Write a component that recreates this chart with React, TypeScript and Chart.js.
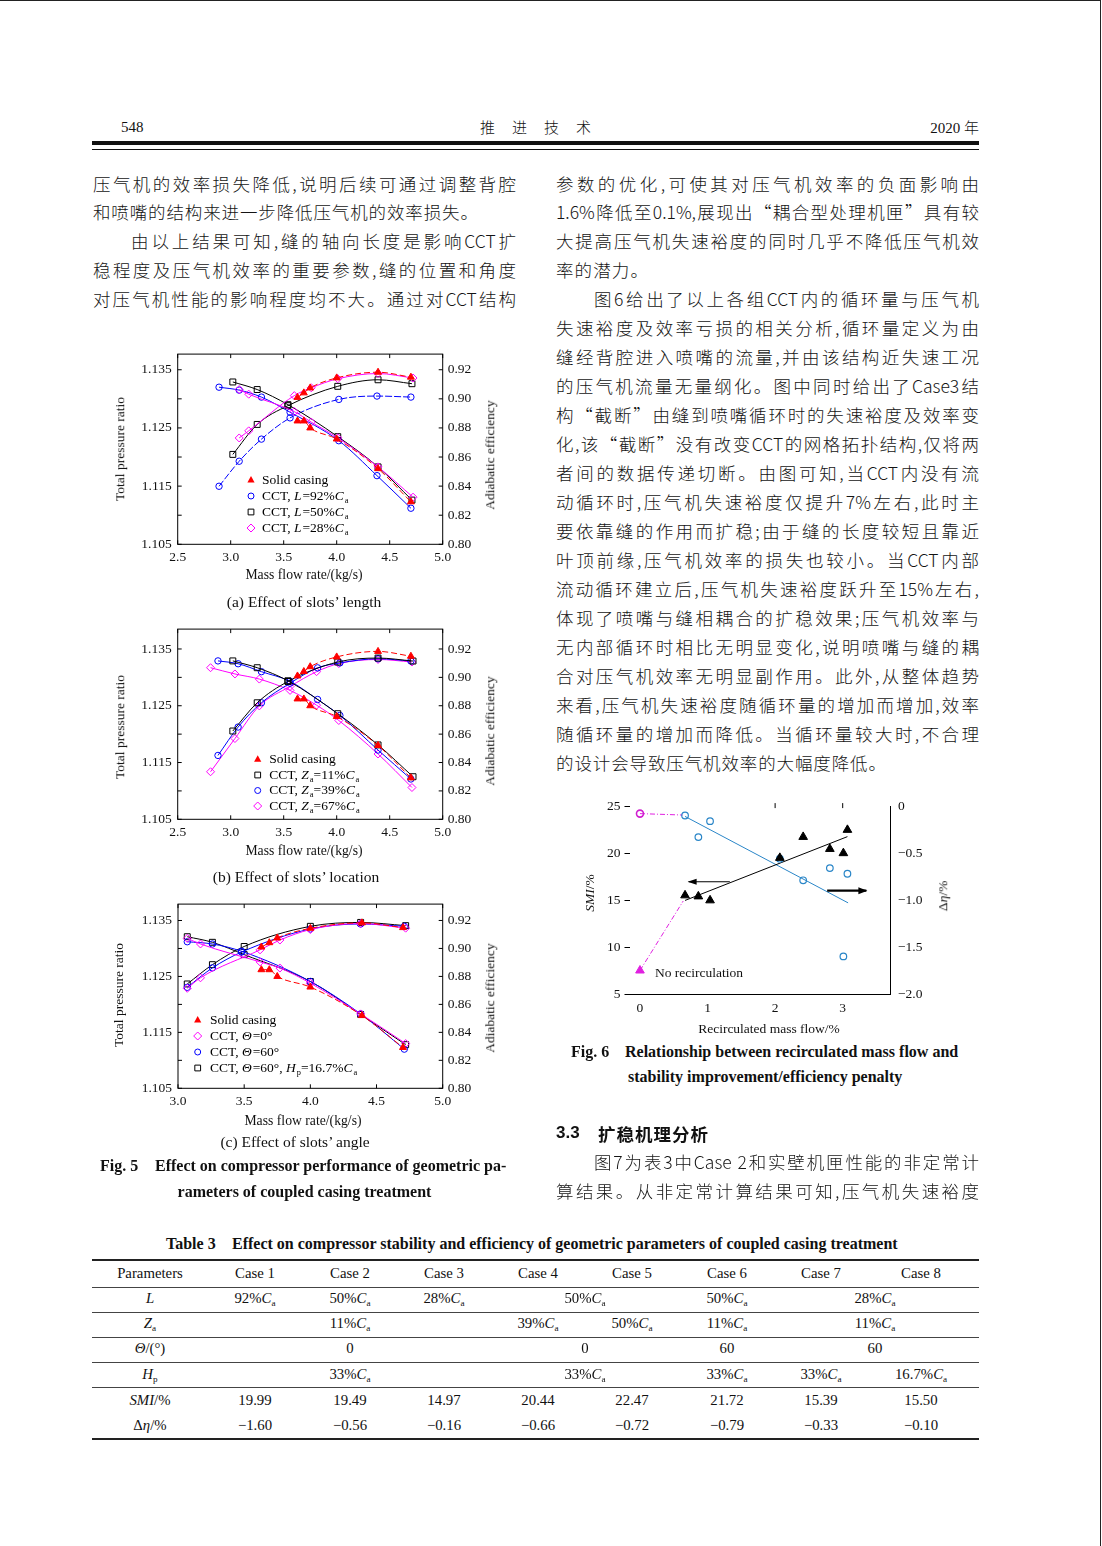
import React, { useEffect, useRef } from 'react';
import { Chart, registerables } from 'chart.js';

Chart.register(...registerables);

const SERIF = '"Liberation Serif", "Times New Roman", serif';
const CJK = '"Noto Sans CJK SC", sans-serif';

// ---------------- Fig. 5 data ----------------
const massFlowTicksAB = [2.5, 3.0, 3.5, 4.0, 4.5, 5.0];
const massFlowTicksC = [3.0, 3.5, 4.0, 4.5, 5.0];
const prTicks = [1.105, 1.11, 1.115, 1.12, 1.125, 1.13, 1.135];
const effTicks = [0.8, 0.82, 0.84, 0.86, 0.88, 0.9, 0.92];

// solid casing (shared by a, b, c)
const solidX = [3.63, 3.69, 3.75, 4.0, 4.39, 4.7];
const solidPR = [1.1262, 1.1262, 1.125, 1.1231, 1.118, 1.1123];
const solidEff = [0.901, 0.9041, 0.9075, 0.9144, 0.9183, 0.9149];

// (a) slot length
const aL92X = [2.89, 3.08, 3.29, 3.56, 4.02, 4.38, 4.7];
const aL92PR = [1.132, 1.1315, 1.1303, 1.1277, 1.1228, 1.1168, 1.1112];
const aL92Eff = [0.8399, 0.8571, 0.8723, 0.8869, 0.8996, 0.9019, 0.9012];
const aL50X = [3.02, 3.25, 3.54, 4.01, 4.39, 4.71];
const aL50PR = [1.1329, 1.1316, 1.129, 1.1235, 1.1183, 1.1126];
const aL50Eff = [0.8618, 0.8824, 0.8953, 0.9086, 0.9131, 0.9104];
const aL28X = [3.08, 3.17, 3.6, 3.76, 4.01, 4.39, 4.72];
const aL28PR = [1.1316, 1.1308, 1.1278, 1.126, 1.1233, 1.1183, 1.1131];
const aL28Eff = [0.8731, 0.878, 0.9022, 0.9076, 0.9138, 0.9174, 0.9143];

// (b) slot location
const bZ11X = [3.02, 3.25, 3.54, 4.01, 4.39, 4.72];
const bZ11PR = [1.1329, 1.1317, 1.1294, 1.1236, 1.1181, 1.1125];
const bZ11Eff = [0.8622, 0.8821, 0.8971, 0.9108, 0.9136, 0.9115];
const bZ39X = [2.88, 3.07, 3.29, 3.56, 3.82, 4.03, 4.39, 4.7];
const bZ39PR = [1.1329, 1.1324, 1.131, 1.1293, 1.1261, 1.1233, 1.1172, 1.1121];
const bZ39Eff = [0.845, 0.865, 0.8821, 0.8959, 0.9067, 0.9102, 0.9131, 0.9115];
const bZ67X = [2.81, 3.04, 3.27, 3.56, 3.81, 4.02, 4.39, 4.71];
const bZ67PR = [1.1317, 1.1306, 1.1297, 1.1277, 1.1251, 1.1224, 1.1165, 1.1106];
const bZ67Eff = [0.8335, 0.8569, 0.8799, 0.8936, 0.904, 0.9097, 0.9126, 0.9108];

// (c) slot angle
const cT0X = [3.07, 3.17, 3.62, 3.77, 4.0, 4.38, 4.72];
const cT0PR = [1.1318, 1.1308, 1.1276, 1.1265, 1.1238, 1.1183, 1.113];
const cT0Eff = [0.8715, 0.879, 0.899, 0.906, 0.9135, 0.9178, 0.9145];
const cT60X = [3.07, 3.26, 3.48, 4.0, 4.38, 4.71];
const cT60PR = [1.1312, 1.1308, 1.1295, 1.1241, 1.1183, 1.112];
const cT60Eff = [0.8722, 0.8861, 0.8974, 0.9139, 0.9175, 0.9158];
const cHpX = [3.07, 3.26, 3.5, 4.0, 4.38, 4.72];
const cHpPR = [1.1321, 1.1311, 1.1289, 1.1241, 1.1182, 1.1128];
const cHpEff = [0.8746, 0.8884, 0.9014, 0.9158, 0.9186, 0.9163];

// ---------------- Fig. 6 data ----------------
// order of points: Case 8, 7, 3, 2, 6, 4, 1, 5
const recircX = [0.667, 0.864, 1.037, 2.07, 2.415, 2.81, 3.01, 3.07];
const smiValues = [15.5, 15.39, 14.97, 19.49, 21.72, 20.44, 19.99, 22.47];
const etaValues = [-0.1, -0.33, -0.16, -0.56, -0.79, -0.66, -1.6, -0.72];
const noRecircX = [0];
const noRecircSMI = [7.5];
const noRecircEta = [-0.08];
const smiFitX = [0.667, 3.07];
const smiFitY = [14.96, 21.75];
const etaFitX = [0.667, 3.08];
const etaFitY = [-0.11, -1.03];
const smiLinkX = [0, 0.64];
const smiLinkY = [7.5, 14.9];
const etaLinkX = [0, 0.63];
const etaLinkY = [-0.08, -0.095];
const smiArrowX = [1.33, 0.72];
const smiArrowY = [16.95];
const etaArrowX = [2.77, 3.35];
const etaArrowY = [-0.9];
const recircTicks = [0, 1, 2, 3];
const smiTicks = [5, 10, 15, 20, 25];
const etaTicks = [-2, -1.5, -1, -0.5, 0];

// ---------------- Table 3 data ----------------
const caseNames = ['Case 1', 'Case 2', 'Case 3', 'Case 4', 'Case 5', 'Case 6', 'Case 7', 'Case 8'];
const smiRow = ['19.99', '19.49', '14.97', '20.44', '22.47', '21.72', '15.39', '15.50'];
const etaRow = ['−1.60', '−0.56', '−0.16', '−0.66', '−0.72', '−0.79', '−0.33', '−0.10'];
const lRow = [[1, '92%*C*_a_'], [2, '50%*C*_a_'], [3, '28%*C*_a_'], [4.5, '50%*C*_a_'], [6, '50%*C*_a_'], [7.5, '28%*C*_a_']];
const zaRow = [[2, '11%*C*_a_'], [4, '39%*C*_a_'], [5, '50%*C*_a_'], [6, '11%*C*_a_'], [7.5, '11%*C*_a_']];
const thetaRow = [[2, '0'], [4.5, '0'], [6, '60'], [7.5, '60']];
const hpRow = [[2, '33%*C*_a_'], [4.5, '33%*C*_a_'], [6, '33%*C*_a_'], [7, '33%*C*_a_'], [8, '16.7%*C*_a_']];

// ---------------- helpers ----------------
type Part = { t: string; i: boolean; sub: boolean };
function parseRich(s: string): Part[] {
  const parts: Part[] = [];
  let i = false, sub = false, cur = '';
  const push = () => { if (cur) parts.push({ t: cur, i, sub }); cur = ''; };
  for (const ch of s) {
    if (ch === '*') { push(); i = !i; }
    else if (ch === '_') { push(); sub = !sub; }
    else cur += ch;
  }
  push();
  return parts;
}

function drawRich(ctx: CanvasRenderingContext2D, s: string, x: number, y: number, size: number) {
  let cx = x;
  ctx.textBaseline = 'middle';
  ctx.textAlign = 'left';
  for (const p of parseRich(s)) {
    const fs = p.sub ? size * 0.62 : size;
    ctx.font = `${p.i ? 'italic ' : ''}${fs}px ${SERIF}`;
    ctx.fillText(p.t, cx, p.sub ? y + size * 0.32 : y);
    cx += ctx.measureText(p.t).width + (p.i ? 1 : 0);
  }
}

function drawMarker(ctx: CanvasRenderingContext2D, style: string, x: number, y: number, r: number, color: string, filled: boolean) {
  ctx.save();
  ctx.strokeStyle = color;
  ctx.fillStyle = color;
  ctx.lineWidth = 1;
  ctx.setLineDash([]);
  ctx.beginPath();
  if (style === 'circle') ctx.arc(x, y, r, 0, Math.PI * 2);
  else if (style === 'rect') { const h = r * 0.72; ctx.rect(x - h, y - h, 2 * h, 2 * h); }
  else if (style === 'rectRot') { ctx.moveTo(x, y - r); ctx.lineTo(x + r, y); ctx.lineTo(x, y + r); ctx.lineTo(x - r, y); ctx.closePath(); }
  else { ctx.moveTo(x, y - r); ctx.lineTo(x + r * 0.9, y + r * 0.6); ctx.lineTo(x - r * 0.9, y + r * 0.6); ctx.closePath(); }
  if (filled) ctx.fill(); else ctx.stroke();
  ctx.restore();
}

const Rich = ({ s }: { s: string }) => (
  <>
    {parseRich(s).map((p, k) =>
      p.sub ? (
        <span key={k} style={{ fontSize: '0.62em', position: 'relative', top: '0.35em', fontStyle: p.i ? 'italic' : 'normal' }}>{p.t}</span>
      ) : (
        <span key={k} style={{ fontStyle: p.i ? 'italic' : 'normal' }}>{p.t}</span>
      )
    )}
  </>
);

type TxtProps = { x: number; cy: number; size: number; anchor?: 'start' | 'middle' | 'end'; font?: string; bold?: boolean; italic?: boolean; children: React.ReactNode; ls?: number; weight?: number };
const Txt = ({ x, cy, size, anchor = 'start', font = SERIF, bold, italic, children, ls, weight }: TxtProps) => {
  const tx = anchor === 'middle' ? '-50%' : anchor === 'end' ? '-100%' : '0';
  return (
    <div
      style={{
        position: 'absolute',
        left: x,
        top: cy - size * 0.6,
        fontSize: size,
        lineHeight: `${size * 1.2}px`,
        fontFamily: font,
        fontWeight: bold ? 'bold' : weight ?? 'normal',
        fontStyle: italic ? 'italic' : 'normal',
        whiteSpace: 'nowrap',
        letterSpacing: ls ?? 0,
        transform: `translateX(${tx})`,
        color: '#111',
      }}
    >
      {children}
    </div>
  );
};

const RotTxt = ({ cx, cy, size, children, font = SERIF }: { cx: number; cy: number; size: number; children: React.ReactNode; font?: string }) => (
  <div
    style={{
      position: 'absolute', left: cx, top: cy, fontSize: size, fontFamily: font, whiteSpace: 'nowrap',
      lineHeight: 1, transform: 'translate(-50%, -50%) rotate(-90deg)', color: '#111',
    }}
  >
    {children}
  </div>
);

const JLine = ({ t, x, cy, w, size = 17.5 }: { t: string; x: number; cy: number; w: number; size?: number }) => (
  <div
    style={{
      position: 'absolute', left: x, top: cy - 14.5, width: w, height: 29, lineHeight: '29px', fontSize: size,
      fontFamily: CJK, textAlign: 'justify', textAlignLast: 'justify', color: '#141414', fontWeight: 300,
    } as React.CSSProperties}
  >
    {t}
  </div>
);

// ---------------- plugins ----------------
const boxTicks = {
  id: 'boxTicks',
  afterDraw(chart: any, _args: any, opts: any) {
    if (!opts || !opts.enabled) return;
    const { ctx, chartArea: a, scales } = chart;
    ctx.save();
    ctx.strokeStyle = '#000';
    ctx.lineWidth = 1;
    ctx.setLineDash([]);
    ctx.strokeRect(a.left, a.top, a.right - a.left, a.bottom - a.top);
    const L = 4;
    const ln = (x1: number, y1: number, x2: number, y2: number) => { ctx.beginPath(); ctx.moveTo(x1, y1); ctx.lineTo(x2, y2); ctx.stroke(); };
    scales.x.ticks.forEach((t: any) => { const p = scales.x.getPixelForValue(t.value); ln(p, a.bottom, p, a.bottom - L); ln(p, a.top, p, a.top + L); });
    scales.y.ticks.forEach((t: any) => { const p = scales.y.getPixelForValue(t.value); ln(a.left, p, a.left + L, p); });
    scales.y1.ticks.forEach((t: any) => { const p = scales.y1.getPixelForValue(t.value); ln(a.right, p, a.right - L, p); });
    ctx.restore();
  },
};

const legend5 = {
  id: 'legend5',
  afterDraw(chart: any, _args: any, opts: any) {
    if (!opts || !opts.items) return;
    const ctx = chart.ctx;
    ctx.save();
    ctx.fillStyle = '#000';
    opts.items.forEach((it: any, k: number) => {
      const y = opts.rows[k];
      drawMarker(ctx, it.style, opts.mx, y, it.r, it.color, it.filled);
      ctx.fillStyle = '#000';
      drawRich(ctx, it.text, opts.tx, y, opts.size);
    });
    ctx.restore();
  },
};

const fig6Decor = {
  id: 'fig6Decor',
  afterDraw(chart: any, _args: any, opts: any) {
    if (!opts || !opts.enabled) return;
    const { ctx, chartArea: a, scales } = chart;
    const { x, y, y1 } = scales;
    ctx.save();
    ctx.strokeStyle = '#000';
    ctx.fillStyle = '#000';
    [2, 3].forEach((v) => {
      const p = x.getPixelForValue(v);
      ctx.lineWidth = 1;
      ctx.beginPath(); ctx.moveTo(p, a.top - 3); ctx.lineTo(p, a.top + 2); ctx.stroke();
    });
    const arrow = (x0: number, x1: number, yy: number, lw: number, hl: number, hw: number) => {
      ctx.lineWidth = lw;
      ctx.beginPath(); ctx.moveTo(x0, yy); ctx.lineTo(x1, yy); ctx.stroke();
      const d = Math.sign(x1 - x0);
      ctx.beginPath(); ctx.moveTo(x1 + d * 1, yy); ctx.lineTo(x1 - d * hl, yy - hw); ctx.lineTo(x1 - d * hl, yy + hw); ctx.closePath(); ctx.fill();
    };
    arrow(x.getPixelForValue(smiArrowX[0]), x.getPixelForValue(smiArrowX[1]), y.getPixelForValue(smiArrowY[0]), 1.2, 8, 3);
    arrow(x.getPixelForValue(etaArrowX[0]), x.getPixelForValue(etaArrowX[1]), y1.getPixelForValue(etaArrowY[0]), 2.2, 8, 3.5);
    ctx.restore();
  },
};

// ---------------- Fig. 5 chart ----------------
type Series = { xs: number[]; ys: number[]; axis: 'y' | 'y1'; color: string; style: string; filled: boolean; r: number; dash?: number[] };
type LegendItem = { style: string; color: string; filled: boolean; r: number; text: string };

type Fig5Props = {
  left: number; top: number; width: number; height: number; padTop: number; leftW: number; rightW: number; xH: number;
  xMin: number; xMax: number; xTicks: number[]; prMax: number; effMax: number; series: Series[];
  legend: { mx: number; tx: number; rows: number[]; items: LegendItem[] };
};

const tickFont = { family: SERIF, size: 13.5 };

function Fig5Chart(p: Fig5Props) {
  const ref = useRef<HTMLCanvasElement>(null);
  useEffect(() => {
    const datasets = p.series.map((s) => ({
      data: s.xs.map((x, i) => ({ x, y: s.ys[i] })),
      yAxisID: s.axis,
      showLine: true,
      borderColor: s.color,
      borderWidth: 1,
      borderDash: s.dash || [],
      cubicInterpolationMode: 'monotone',
      pointStyle: s.style,
      pointRadius: s.r,
      pointBorderColor: s.color,
      pointBackgroundColor: s.filled ? s.color : 'rgba(255,255,255,0)',
      pointBorderWidth: 1,
      fill: false,
    }));
    const chart = new Chart(ref.current as HTMLCanvasElement, {
      type: 'scatter',
      data: { datasets } as any,
      plugins: [boxTicks, legend5],
      options: {
        animation: false,
        responsive: false,
        events: [],
        layout: { padding: { top: p.padTop, left: 0, right: 0, bottom: 0 } },
        plugins: {
          legend: { display: false },
          tooltip: { enabled: false },
          boxTicks: { enabled: true },
          legend5: { ...p.legend, size: 13.5 },
        } as any,
        scales: {
          x: {
            type: 'linear', min: p.xMin, max: p.xMax,
            afterBuildTicks: (sc: any) => { sc.ticks = p.xTicks.map((v) => ({ value: v })); },
            afterFit: (sc: any) => { sc.height = p.xH; },
            ticks: { callback: (v: any) => Number(v).toFixed(1), font: tickFont, color: '#111', padding: 5, maxRotation: 0, autoSkip: false },
            grid: { display: false, drawTicks: false },
            border: { display: false },
          },
          y: {
            type: 'linear', position: 'left', min: 1.105, max: p.prMax,
            afterBuildTicks: (sc: any) => { sc.ticks = prTicks.map((v) => ({ value: v })); },
            afterFit: (sc: any) => { sc.width = p.leftW; },
            ticks: { callback: (v: any, i: number) => (i % 2 === 0 ? Number(v).toFixed(3) : ''), font: tickFont, color: '#111', padding: 6, autoSkip: false },
            grid: { display: false, drawTicks: false },
            border: { display: false },
          },
          y1: {
            type: 'linear', position: 'right', min: 0.8, max: p.effMax,
            afterBuildTicks: (sc: any) => { sc.ticks = effTicks.map((v) => ({ value: v })); },
            afterFit: (sc: any) => { sc.width = p.rightW; },
            ticks: { callback: (v: any) => Number(v).toFixed(2), font: tickFont, color: '#111', padding: 5, autoSkip: false },
            grid: { display: false, drawTicks: false },
            border: { display: false },
          },
        },
      } as any,
    });
    return () => chart.destroy();
  }, []);
  return <canvas ref={ref} width={p.width} height={p.height} style={{ position: 'absolute', left: p.left, top: p.top, width: p.width, height: p.height }} />;
}

// ---------------- Fig. 6 chart ----------------
function Fig6Chart() {
  const ref = useRef<HTMLCanvasElement>(null);
  useEffect(() => {
    const pts = (xs: number[], ys: number[]) => xs.map((x, i) => ({ x, y: ys[i] }));
    const chart = new Chart(ref.current as HTMLCanvasElement, {
      type: 'scatter',
      data: {
        datasets: [
          { data: pts(recircX, smiValues), yAxisID: 'y', pointStyle: 'triangle', pointRadius: 5, pointBackgroundColor: '#000', pointBorderColor: '#000', showLine: false },
          { data: pts(recircX, etaValues), yAxisID: 'y1', pointStyle: 'circle', pointRadius: 3.3, pointBackgroundColor: 'rgba(255,255,255,0)', pointBorderColor: '#2a86c8', pointBorderWidth: 1.2, showLine: false },
          { data: pts(noRecircX, noRecircSMI), yAxisID: 'y', pointStyle: 'triangle', pointRadius: 5, pointBackgroundColor: '#e020e0', pointBorderColor: '#e020e0', showLine: false },
          { data: pts(noRecircX, noRecircEta), yAxisID: 'y1', pointStyle: 'circle', pointRadius: 3.5, pointBackgroundColor: 'rgba(255,255,255,0)', pointBorderColor: '#d020d0', pointBorderWidth: 1.6, showLine: false },
          { data: pts(smiFitX, smiFitY), yAxisID: 'y', showLine: true, borderColor: '#000', borderWidth: 1, pointRadius: 0 },
          { data: pts(etaFitX, etaFitY), yAxisID: 'y1', showLine: true, borderColor: '#2a86c8', borderWidth: 1, pointRadius: 0 },
          { data: pts(smiLinkX, smiLinkY), yAxisID: 'y', showLine: true, borderColor: '#e020e0', borderWidth: 1, borderDash: [5, 2, 1, 2], pointRadius: 0 },
          { data: pts(etaLinkX, etaLinkY), yAxisID: 'y1', showLine: true, borderColor: '#e020e0', borderWidth: 1, borderDash: [5, 2, 1, 2], pointRadius: 0 },
        ],
      } as any,
      plugins: [fig6Decor],
      options: {
        animation: false,
        responsive: false,
        events: [],
        layout: { padding: { top: 13.3, left: 0, right: 0, bottom: 0 } },
        plugins: { legend: { display: false }, tooltip: { enabled: false }, fig6Decor: { enabled: true } } as any,
        scales: {
          x: {
            type: 'linear', min: -0.155, max: 3.7,
            afterBuildTicks: (sc: any) => { sc.ticks = recircTicks.map((v) => ({ value: v })); },
            afterFit: (sc: any) => { sc.height = 41; },
            ticks: { callback: (v: any) => String(v), font: { family: SERIF, size: 13.5 }, color: '#111', padding: 6, maxRotation: 0, autoSkip: false },
            grid: { display: false, drawTicks: false },
            border: { display: true, color: '#000', width: 1 },
          },
          y: {
            type: 'linear', position: 'left', min: 5, max: 25,
            afterBuildTicks: (sc: any) => { sc.ticks = smiTicks.map((v) => ({ value: v })); },
            afterFit: (sc: any) => { sc.width = 69.5; },
            ticks: { callback: (v: any) => String(v), font: { family: SERIF, size: 13.5 }, color: '#111', padding: 4, autoSkip: false },
            grid: { display: true, drawOnChartArea: false, drawTicks: true, tickLength: 5, color: '#000' },
            border: { display: false },
          },
          y1: {
            type: 'linear', position: 'right', min: -2, max: 0,
            afterBuildTicks: (sc: any) => { sc.ticks = etaTicks.map((v) => ({ value: v })); },
            afterFit: (sc: any) => { sc.width = 70; },
            ticks: { callback: (v: any) => (Number(v) === 0 ? '0' : '−' + Math.abs(Number(v)).toFixed(1)), font: { family: SERIF, size: 13.5 }, color: '#111', padding: 8, autoSkip: false },
            grid: { display: false, drawTicks: false },
            border: { display: true, color: '#000', width: 1 },
          },
        },
      } as any,
    });
    return () => chart.destroy();
  }, []);
  return <canvas ref={ref} width={400} height={245} style={{ position: 'absolute', left: 560, top: 790, width: 400, height: 245 }} />;
}

// ---------------- series definitions ----------------
const RED = '#ff0000', BLUE = '#0000ff', MAG = '#ff00ff', BLK = '#000000';
const redDash = [6, 3];
const solidSeries: Series[] = [
  { xs: solidX, ys: solidPR, axis: 'y', color: RED, style: 'triangle', filled: true, r: 4, dash: redDash },
  { xs: solidX, ys: solidEff, axis: 'y1', color: RED, style: 'triangle', filled: true, r: 4, dash: redDash },
];
const seriesA: Series[] = [
  ...solidSeries,
  { xs: aL28X, ys: aL28PR, axis: 'y', color: MAG, style: 'rectRot', filled: false, r: 4 },
  { xs: aL28X, ys: aL28Eff, axis: 'y1', color: MAG, style: 'rectRot', filled: false, r: 4 },
  { xs: aL50X, ys: aL50PR, axis: 'y', color: BLK, style: 'rect', filled: false, r: 4.2 },
  { xs: aL50X, ys: aL50Eff, axis: 'y1', color: BLK, style: 'rect', filled: false, r: 4.2 },
  { xs: aL92X, ys: aL92PR, axis: 'y', color: BLUE, style: 'circle', filled: false, r: 3.2 },
  { xs: aL92X, ys: aL92Eff, axis: 'y1', color: BLUE, style: 'circle', filled: false, r: 3.2, dash: [7, 2] },
];
const seriesB: Series[] = [
  ...solidSeries,
  { xs: bZ11X, ys: bZ11PR, axis: 'y', color: BLK, style: 'rect', filled: false, r: 4.2 },
  { xs: bZ11X, ys: bZ11Eff, axis: 'y1', color: BLK, style: 'rect', filled: false, r: 4.2 },
  { xs: bZ39X, ys: bZ39PR, axis: 'y', color: BLUE, style: 'circle', filled: false, r: 3.2 },
  { xs: bZ39X, ys: bZ39Eff, axis: 'y1', color: BLUE, style: 'circle', filled: false, r: 3.2 },
  { xs: bZ67X, ys: bZ67PR, axis: 'y', color: MAG, style: 'rectRot', filled: false, r: 4 },
  { xs: bZ67X, ys: bZ67Eff, axis: 'y1', color: MAG, style: 'rectRot', filled: false, r: 4 },
];
const seriesC: Series[] = [
  ...solidSeries,
  { xs: cT0X, ys: cT0PR, axis: 'y', color: MAG, style: 'rectRot', filled: false, r: 4 },
  { xs: cT0X, ys: cT0Eff, axis: 'y1', color: MAG, style: 'rectRot', filled: false, r: 4 },
  { xs: cT60X, ys: cT60PR, axis: 'y', color: BLUE, style: 'circle', filled: false, r: 3.2 },
  { xs: cT60X, ys: cT60Eff, axis: 'y1', color: BLUE, style: 'circle', filled: false, r: 3.2 },
  { xs: cHpX, ys: cHpPR, axis: 'y', color: BLK, style: 'rect', filled: false, r: 4.2 },
  { xs: cHpX, ys: cHpEff, axis: 'y1', color: BLK, style: 'rect', filled: false, r: 4.2 },
];

const legSolid: LegendItem = { style: 'triangle', color: RED, filled: true, r: 4, text: 'Solid casing' };
const legendA = [
  legSolid,
  { style: 'circle', color: BLUE, filled: false, r: 3, text: 'CCT, *L*=92%*C*_a_' },
  { style: 'rect', color: BLK, filled: false, r: 4, text: 'CCT, *L*=50%*C*_a_' },
  { style: 'rectRot', color: MAG, filled: false, r: 4, text: 'CCT, *L*=28%*C*_a_' },
];
const legendB = [
  legSolid,
  { style: 'rect', color: BLK, filled: false, r: 4, text: 'CCT, *Z*_a_=11%*C*_a_' },
  { style: 'circle', color: BLUE, filled: false, r: 3, text: 'CCT, *Z*_a_=39%*C*_a_' },
  { style: 'rectRot', color: MAG, filled: false, r: 4, text: 'CCT, *Z*_a_=67%*C*_a_' },
];
const legendC = [
  legSolid,
  { style: 'rectRot', color: MAG, filled: false, r: 4, text: 'CCT, *Θ*=0°' },
  { style: 'circle', color: BLUE, filled: false, r: 3, text: 'CCT, *Θ*=60°' },
  { style: 'rect', color: BLK, filled: false, r: 4, text: 'CCT, *Θ*=60°, *H*_p_=16.7%*C*_a_' },
];

// ---------------- text ----------------
const leftLines = [
  { t: '压气机的效率损失降低,说明后续可通过调整背腔', x: 93, w: 423 },
  { t: '和喷嘴的结构来进一步降低压气机的效率损失。', x: 93, w: 385 },
  { t: '由以上结果可知,缝的轴向长度是影响CCT扩', x: 131, w: 385 },
  { t: '稳程度及压气机效率的重要参数,缝的位置和角度', x: 93, w: 423 },
  { t: '对压气机性能的影响程度均不大。通过对CCT结构', x: 93, w: 423 },
];
const rightLines = [
  { t: '参数的优化,可使其对压气机效率的负面影响由', x: 556, w: 423 },
  { t: '1.6%降低至0.1%,展现出“耦合型处理机匣”具有较', x: 556, w: 423 },
  { t: '大提高压气机失速裕度的同时几乎不降低压气机效', x: 556, w: 423 },
  { t: '率的潜力。', x: 556, w: 92 },
  { t: '图6给出了以上各组CCT内的循环量与压气机', x: 594, w: 385 },
  { t: '失速裕度及效率亏损的相关分析,循环量定义为由', x: 556, w: 423 },
  { t: '缝经背腔进入喷嘴的流量,并由该结构近失速工况', x: 556, w: 423 },
  { t: '的压气机流量无量纲化。图中同时给出了Case3结', x: 556, w: 423 },
  { t: '构“截断”由缝到喷嘴循环时的失速裕度及效率变', x: 556, w: 423 },
  { t: '化,该“截断”没有改变CCT的网格拓扑结构,仅将两', x: 556, w: 423 },
  { t: '者间的数据传递切断。由图可知,当CCT内没有流', x: 556, w: 423 },
  { t: '动循环时,压气机失速裕度仅提升7%左右,此时主', x: 556, w: 423 },
  { t: '要依靠缝的作用而扩稳;由于缝的长度较短且靠近', x: 556, w: 423 },
  { t: '叶顶前缘,压气机效率的损失也较小。当CCT内部', x: 556, w: 423 },
  { t: '流动循环建立后,压气机失速裕度跃升至15%左右,', x: 556, w: 423 },
  { t: '体现了喷嘴与缝相耦合的扩稳效果;压气机效率与', x: 556, w: 423 },
  { t: '无内部循环时相比无明显变化,说明喷嘴与缝的耦', x: 556, w: 423 },
  { t: '合对压气机效率无明显副作用。此外,从整体趋势', x: 556, w: 423 },
  { t: '来看,压气机失速裕度随循环量的增加而增加,效率', x: 556, w: 423 },
  { t: '随循环量的增加而降低。当循环量较大时,不合理', x: 556, w: 423 },
  { t: '的设计会导致压气机效率的大幅度降低。', x: 556, w: 330 },
];

const colX = [150, 255, 350, 444, 538, 632, 727, 821, 921];
const colAt = (c: number) => (c === 4.5 ? 585 : c === 7.5 ? 875 : colX[c]);
const rowY = { head: 1274, L: 1299, Za: 1324, th: 1349, Hp: 1375, smi: 1401, eta: 1426 };
const TS = 14.8;

export default function App() {
  const lineY = (k: number) => 183 + k * 28.95;
  return (
    <div style={{ position: 'absolute', left: 0, top: 0, width: 1102, height: 1546, background: '#fff', overflow: 'hidden' }}>
      {/* page edge */}
      <div style={{ position: 'absolute', left: 0, top: 0, width: 1101, height: 1, background: '#222' }} />
      <div style={{ position: 'absolute', left: 1100, top: 0, width: 1, height: 1546, background: '#222' }} />

      {/* header */}
      <Txt x={121} cy={127} size={15}>548</Txt>
      <div style={{ position: 'absolute', left: 480, top: 118, width: 111, fontSize: 15, lineHeight: '18px', fontFamily: CJK, fontWeight: 300, textAlign: 'justify', textAlignLast: 'justify', color: '#111' } as React.CSSProperties}>推 进 技 术</div>
      <Txt x={979} cy={127} size={15} anchor="end">2020 <span style={{ fontFamily: CJK, fontWeight: 300 }}>年</span></Txt>
      <div style={{ position: 'absolute', left: 92, top: 141, width: 887, height: 4, background: '#111' }} />
      <div style={{ position: 'absolute', left: 92, top: 149, width: 887, height: 1, background: '#111' }} />

      {/* body text */}
      {leftLines.map((l, k) => <JLine key={'l' + k} t={l.t} x={l.x} w={l.w} cy={lineY(k)} />)}
      {rightLines.map((l, k) => <JLine key={'r' + k} t={l.t} x={l.x} w={l.w} cy={lineY(k)} />)}

      {/* Fig 5 */}
      <Fig5Chart left={100} top={340} width={410} height={250} padTop={9.7} leftW={77.7} rightW={67.3} xH={45.7}
        xMin={2.5} xMax={5.0} xTicks={massFlowTicksAB} prMax={1.13769} effMax={0.93075} series={seriesA}
        legend={{ mx: 151, tx: 162, rows: [140, 156, 172, 188], items: legendA }} />
      <RotTxt cx={120} cy={449} size={13.5}>Total pressure ratio</RotTxt>
      <RotTxt cx={490} cy={455} size={13.5}>Adiabatic efficiency</RotTxt>
      <Txt x={304} cy={575.5} size={13.7} anchor="middle">Mass flow rate/(kg/s)</Txt>
      <Txt x={304} cy={602} size={15.5} anchor="middle">(a) Effect of slots’ length</Txt>

      <Fig5Chart left={100} top={615} width={410} height={250} padTop={9.7} leftW={77.7} rightW={67.3} xH={45.7}
        xMin={2.5} xMax={5.0} xTicks={massFlowTicksAB} prMax={1.1385} effMax={0.934} series={seriesB}
        legend={{ mx: 157.7, tx: 169.3, rows: [144.3, 160, 175.5, 191], items: legendB }} />
      <RotTxt cx={120} cy={727} size={13.5}>Total pressure ratio</RotTxt>
      <RotTxt cx={490} cy={731} size={13.5}>Adiabatic efficiency</RotTxt>
      <Txt x={304} cy={851} size={13.7} anchor="middle">Mass flow rate/(kg/s)</Txt>
      <Txt x={296} cy={877} size={15.5} anchor="middle">(b) Effect of slots’ location</Txt>

      <Fig5Chart left={100} top={890} width={410} height={245} padTop={9.7} leftW={78} rightW={67.3} xH={46.7}
        xMin={3.0} xMax={5.0} xTicks={massFlowTicksC} prMax={1.13793} effMax={0.9317} series={seriesC}
        legend={{ mx: 97.7, tx: 110, rows: [130, 146, 162, 178], items: legendC }} />
      <RotTxt cx={118.5} cy={995} size={13.5}>Total pressure ratio</RotTxt>
      <RotTxt cx={490} cy={998} size={13.5}>Adiabatic efficiency</RotTxt>
      <Txt x={303} cy={1121.5} size={13.7} anchor="middle">Mass flow rate/(kg/s)</Txt>
      <Txt x={295} cy={1142.5} size={15.5} anchor="middle">(c) Effect of slots’ angle</Txt>

      <Txt x={100} cy={1166} size={16} bold>Fig. 5</Txt>
      <Txt x={155} cy={1166} size={16} bold>Effect on compressor performance of geometric pa-</Txt>
      <Txt x={304.5} cy={1192} size={16} bold anchor="middle">rameters of coupled casing treatment</Txt>

      {/* Fig 6 */}
      <Fig6Chart />
      <RotTxt cx={590} cy={893} size={13.5}><i>SMI</i>/%</RotTxt>
      <RotTxt cx={943} cy={896} size={13.5}>Δ<i>η</i>/%</RotTxt>
      <Txt x={769} cy={1029} size={13.5} anchor="middle">Recirculated mass flow/%</Txt>
      <Txt x={655} cy={973} size={13.5}>No recirculation</Txt>
      <Txt x={571} cy={1052} size={16} bold>Fig. 6</Txt>
      <Txt x={625} cy={1052} size={16} bold>Relationship between recirculated mass flow and</Txt>
      <Txt x={628} cy={1077} size={16} bold>stability improvement/efficiency penalty</Txt>

      {/* section 3.3 */}
      <Txt x={556} cy={1133} size={17} bold font={'"Liberation Sans", sans-serif'}>3.3</Txt>
      <Txt x={598} cy={1133} size={17.5} bold font={CJK} ls={1}>扩稳机理分析</Txt>
      <JLine t="图7为表3中Case 2和实壁机匣性能的非定常计" x={594} w={385} cy={1161} />
      <JLine t="算结果。从非定常计算结果可知,压气机失速裕度" x={556} w={423} cy={1190} />

      {/* Table 3 */}
      <Txt x={166} cy={1244} size={16} bold>Table 3</Txt>
      <Txt x={232} cy={1244} size={16} bold>Effect on compressor stability and efficiency of geometric parameters of coupled casing treatment</Txt>
      <div style={{ position: 'absolute', left: 92, top: 1259, width: 887, height: 1.5, background: '#222' }} />
      {[1287, 1312, 1337, 1362, 1387].map((y) => (
        <div key={y} style={{ position: 'absolute', left: 92, top: y, width: 887, height: 1, background: '#444' }} />
      ))}
      <div style={{ position: 'absolute', left: 92, top: 1438, width: 887, height: 1.5, background: '#222' }} />

      <Txt x={colX[0]} cy={rowY.head} size={TS} anchor="middle">Parameters</Txt>
      {caseNames.map((c, k) => <Txt key={c} x={colX[k + 1]} cy={rowY.head} size={TS} anchor="middle">{c}</Txt>)}

      <Txt x={colX[0]} cy={rowY.L} size={TS} anchor="middle"><i>L</i></Txt>
      {lRow.map(([c, s], k) => <Txt key={'L' + k} x={colAt(c as number)} cy={rowY.L} size={TS} anchor="middle"><Rich s={s as string} /></Txt>)}
      <Txt x={colX[0]} cy={rowY.Za} size={TS} anchor="middle"><Rich s="*Z*_a_" /></Txt>
      {zaRow.map(([c, s], k) => <Txt key={'Z' + k} x={colAt(c as number)} cy={rowY.Za} size={TS} anchor="middle"><Rich s={s as string} /></Txt>)}
      <Txt x={colX[0]} cy={rowY.th} size={TS} anchor="middle"><Rich s="*Θ*/(°)" /></Txt>
      {thetaRow.map(([c, s], k) => <Txt key={'T' + k} x={colAt(c as number)} cy={rowY.th} size={TS} anchor="middle"><Rich s={s as string} /></Txt>)}
      <Txt x={colX[0]} cy={rowY.Hp} size={TS} anchor="middle"><Rich s="*H*_p_" /></Txt>
      {hpRow.map(([c, s], k) => <Txt key={'H' + k} x={colAt(c as number)} cy={rowY.Hp} size={TS} anchor="middle"><Rich s={s as string} /></Txt>)}
      <Txt x={colX[0]} cy={rowY.smi} size={TS} anchor="middle"><i>SMI</i>/%</Txt>
      {smiRow.map((v, k) => <Txt key={'S' + k} x={colX[k + 1]} cy={rowY.smi} size={TS} anchor="middle">{v}</Txt>)}
      <Txt x={colX[0]} cy={rowY.eta} size={TS} anchor="middle">Δ<i>η</i>/%</Txt>
      {etaRow.map((v, k) => <Txt key={'E' + k} x={colX[k + 1]} cy={rowY.eta} size={TS} anchor="middle">{v}</Txt>)}
    </div>
  );
}
